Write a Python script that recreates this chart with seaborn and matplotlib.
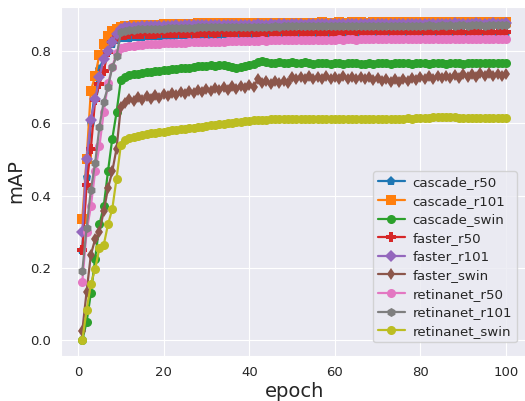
import matplotlib
matplotlib.use("Agg")
import matplotlib.pyplot as plt
import seaborn as sns
import numpy as np

epochs = list(range(1, 101))

cascade_r50 = [
    0.25, 0.45, 0.60, 0.69, 0.75, 0.78, 0.80, 0.82, 0.83, 0.835,
    0.836, 0.837, 0.838, 0.838, 0.839, 0.840, 0.840, 0.841, 0.841, 0.842,
    0.842, 0.842, 0.843, 0.843, 0.843, 0.844, 0.844, 0.844, 0.844, 0.845,
    0.845, 0.845, 0.845, 0.846, 0.845, 0.846, 0.846, 0.846, 0.846, 0.846,
    0.847, 0.846, 0.847, 0.847, 0.847, 0.847, 0.847, 0.848, 0.847, 0.847,
    0.848, 0.847, 0.848, 0.848, 0.847, 0.848, 0.848, 0.848, 0.848, 0.848,
    0.848, 0.848, 0.849, 0.848, 0.848, 0.849, 0.848, 0.849, 0.849, 0.848,
    0.849, 0.849, 0.849, 0.849, 0.848, 0.849, 0.849, 0.849, 0.849, 0.849,
    0.849, 0.849, 0.849, 0.850, 0.849, 0.849, 0.849, 0.850, 0.849, 0.849,
    0.850, 0.849, 0.849, 0.850, 0.849, 0.850, 0.849, 0.850, 0.849, 0.850,
]
cascade_r101 = [
    0.335, 0.50, 0.69, 0.73, 0.79, 0.82, 0.84, 0.855, 0.862, 0.867,
    0.869, 0.870, 0.871, 0.871, 0.872, 0.872, 0.873, 0.873, 0.873, 0.874,
    0.874, 0.874, 0.875, 0.874, 0.875, 0.875, 0.875, 0.876, 0.875, 0.876,
    0.876, 0.876, 0.876, 0.877, 0.876, 0.877, 0.877, 0.876, 0.877, 0.877,
    0.877, 0.878, 0.877, 0.877, 0.878, 0.877, 0.878, 0.878, 0.877, 0.878,
    0.878, 0.878, 0.877, 0.878, 0.878, 0.878, 0.879, 0.878, 0.878, 0.878,
    0.879, 0.878, 0.878, 0.879, 0.878, 0.879, 0.878, 0.878, 0.879, 0.878,
    0.879, 0.879, 0.878, 0.879, 0.879, 0.878, 0.879, 0.879, 0.879, 0.878,
    0.879, 0.879, 0.879, 0.879, 0.878, 0.879, 0.879, 0.880, 0.879, 0.879,
    0.879, 0.879, 0.880, 0.879, 0.879, 0.879, 0.880, 0.879, 0.879, 0.880,
]
cascade_swin = [
    0.0, 0.05, 0.13, 0.225, 0.32, 0.37, 0.467, 0.557, 0.63, 0.72,
    0.728, 0.733, 0.735, 0.737, 0.740, 0.741, 0.742, 0.745, 0.744, 0.746,
    0.748, 0.750, 0.749, 0.752, 0.754, 0.753, 0.756, 0.758, 0.757, 0.759,
    0.760, 0.758, 0.761, 0.760, 0.757, 0.755, 0.754, 0.756, 0.758, 0.760,
    0.764, 0.770, 0.773, 0.768, 0.766, 0.767, 0.768, 0.766, 0.767, 0.768,
    0.767, 0.766, 0.768, 0.767, 0.765, 0.766, 0.767, 0.766, 0.765, 0.767,
    0.766, 0.765, 0.766, 0.767, 0.766, 0.765, 0.764, 0.766, 0.765, 0.766,
    0.767, 0.766, 0.765, 0.766, 0.767, 0.766, 0.766, 0.765, 0.766, 0.767,
    0.766, 0.765, 0.766, 0.767, 0.766, 0.765, 0.766, 0.767, 0.766, 0.765,
    0.766, 0.767, 0.766, 0.766, 0.767, 0.766, 0.767, 0.766, 0.767, 0.767,
]
faster_r50 = [
    0.25, 0.43, 0.53, 0.665, 0.708, 0.745, 0.797, 0.825, 0.838, 0.843,
    0.845, 0.846, 0.846, 0.847, 0.847, 0.848, 0.848, 0.848, 0.849, 0.849,
    0.849, 0.849, 0.850, 0.849, 0.850, 0.850, 0.850, 0.850, 0.851, 0.850,
    0.851, 0.850, 0.851, 0.851, 0.851, 0.851, 0.851, 0.852, 0.851, 0.851,
    0.852, 0.851, 0.852, 0.852, 0.851, 0.852, 0.852, 0.852, 0.852, 0.852,
    0.852, 0.852, 0.853, 0.852, 0.852, 0.852, 0.853, 0.852, 0.852, 0.853,
    0.852, 0.853, 0.852, 0.853, 0.852, 0.853, 0.853, 0.852, 0.853, 0.853,
    0.852, 0.853, 0.853, 0.853, 0.852, 0.853, 0.853, 0.853, 0.853, 0.852,
    0.853, 0.853, 0.853, 0.853, 0.853, 0.852, 0.853, 0.853, 0.853, 0.853,
    0.853, 0.853, 0.852, 0.853, 0.853, 0.853, 0.853, 0.853, 0.853, 0.853,
]
faster_r101 = [
    0.30, 0.50, 0.61, 0.667, 0.727, 0.778, 0.80, 0.825, 0.848, 0.862,
    0.865, 0.866, 0.867, 0.867, 0.868, 0.868, 0.869, 0.869, 0.869, 0.870,
    0.870, 0.870, 0.871, 0.870, 0.871, 0.871, 0.871, 0.872, 0.871, 0.872,
    0.872, 0.872, 0.872, 0.873, 0.872, 0.873, 0.873, 0.872, 0.873, 0.873,
    0.873, 0.874, 0.873, 0.873, 0.874, 0.873, 0.874, 0.874, 0.873, 0.874,
    0.874, 0.874, 0.873, 0.874, 0.874, 0.874, 0.875, 0.874, 0.874, 0.874,
    0.875, 0.874, 0.874, 0.875, 0.874, 0.875, 0.874, 0.874, 0.875, 0.874,
    0.875, 0.875, 0.874, 0.875, 0.875, 0.874, 0.875, 0.875, 0.875, 0.874,
    0.875, 0.875, 0.875, 0.875, 0.874, 0.875, 0.875, 0.876, 0.875, 0.875,
    0.875, 0.875, 0.876, 0.875, 0.875, 0.875, 0.876, 0.875, 0.875, 0.876,
]
faster_swin = [
    0.025, 0.134, 0.236, 0.28, 0.30, 0.356, 0.42, 0.467, 0.53, 0.645,
    0.655, 0.668, 0.662, 0.672, 0.665, 0.676, 0.668, 0.679, 0.671, 0.681,
    0.674, 0.684, 0.677, 0.687, 0.680, 0.690, 0.683, 0.692, 0.686, 0.695,
    0.689, 0.698, 0.691, 0.700, 0.693, 0.702, 0.695, 0.704, 0.698, 0.706,
    0.700, 0.722, 0.712, 0.718, 0.709, 0.716, 0.710, 0.718, 0.712, 0.728,
    0.721, 0.729, 0.722, 0.730, 0.723, 0.729, 0.722, 0.730, 0.723, 0.729,
    0.722, 0.730, 0.723, 0.729, 0.722, 0.729, 0.721, 0.727, 0.719, 0.724,
    0.716, 0.722, 0.714, 0.721, 0.715, 0.723, 0.717, 0.725, 0.720, 0.728,
    0.722, 0.730, 0.723, 0.731, 0.724, 0.732, 0.725, 0.733, 0.726, 0.735,
    0.728, 0.737, 0.729, 0.738, 0.730, 0.738, 0.730, 0.737, 0.730, 0.735,
]
retinanet_r50 = [
    0.162, 0.30, 0.37, 0.467, 0.537, 0.63, 0.71, 0.755, 0.795, 0.808,
    0.811, 0.813, 0.815, 0.816, 0.817, 0.818, 0.819, 0.820, 0.820, 0.821,
    0.821, 0.822, 0.822, 0.823, 0.823, 0.824, 0.824, 0.824, 0.825, 0.825,
    0.825, 0.826, 0.826, 0.826, 0.827, 0.827, 0.827, 0.827, 0.828, 0.828,
    0.828, 0.828, 0.829, 0.828, 0.829, 0.829, 0.829, 0.830, 0.829, 0.830,
    0.830, 0.830, 0.830, 0.831, 0.830, 0.831, 0.831, 0.831, 0.831, 0.831,
    0.832, 0.831, 0.832, 0.832, 0.831, 0.832, 0.832, 0.832, 0.832, 0.833,
    0.832, 0.832, 0.833, 0.832, 0.833, 0.833, 0.833, 0.832, 0.833, 0.833,
    0.833, 0.833, 0.833, 0.834, 0.833, 0.833, 0.833, 0.834, 0.833, 0.833,
    0.834, 0.833, 0.834, 0.833, 0.834, 0.833, 0.834, 0.834, 0.833, 0.834,
]
retinanet_r101 = [
    0.19, 0.31, 0.415, 0.49, 0.59, 0.66, 0.70, 0.755, 0.785, 0.852,
    0.856, 0.858, 0.859, 0.860, 0.860, 0.861, 0.861, 0.862, 0.862, 0.862,
    0.863, 0.863, 0.863, 0.864, 0.864, 0.864, 0.864, 0.865, 0.865, 0.865,
    0.865, 0.865, 0.866, 0.866, 0.866, 0.866, 0.866, 0.866, 0.867, 0.866,
    0.867, 0.867, 0.867, 0.867, 0.867, 0.868, 0.867, 0.868, 0.868, 0.868,
    0.868, 0.868, 0.868, 0.868, 0.869, 0.868, 0.869, 0.868, 0.869, 0.869,
    0.869, 0.869, 0.869, 0.869, 0.869, 0.870, 0.869, 0.869, 0.870, 0.869,
    0.870, 0.870, 0.869, 0.870, 0.870, 0.870, 0.870, 0.870, 0.870, 0.870,
    0.870, 0.871, 0.870, 0.870, 0.871, 0.870, 0.871, 0.870, 0.871, 0.871,
    0.870, 0.871, 0.871, 0.871, 0.870, 0.871, 0.871, 0.871, 0.871, 0.871,
]
retinanet_swin = [
    0.0, 0.083, 0.155, 0.197, 0.255, 0.263, 0.32, 0.363, 0.447, 0.54,
    0.555, 0.560, 0.563, 0.565, 0.568, 0.570, 0.572, 0.573, 0.575, 0.577,
    0.579, 0.580, 0.582, 0.583, 0.585, 0.587, 0.588, 0.589, 0.590, 0.592,
    0.594, 0.595, 0.597, 0.598, 0.600, 0.601, 0.603, 0.604, 0.606, 0.607,
    0.608, 0.609, 0.610, 0.610, 0.611, 0.611, 0.611, 0.612, 0.611, 0.612,
    0.612, 0.611, 0.612, 0.612, 0.611, 0.612, 0.612, 0.611, 0.612, 0.612,
    0.612, 0.611, 0.612, 0.613, 0.612, 0.612, 0.611, 0.612, 0.612, 0.613,
    0.613, 0.612, 0.613, 0.613, 0.612, 0.613, 0.614, 0.613, 0.614, 0.614,
    0.615, 0.615, 0.616, 0.617, 0.617, 0.618, 0.617, 0.616, 0.615, 0.614,
    0.614, 0.615, 0.614, 0.615, 0.615, 0.614, 0.615, 0.615, 0.615, 0.615,
]

series_names = ["cascade_r50", "cascade_r101", "cascade_swin", "faster_r50",
                "faster_r101", "faster_swin", "retinanet_r50", "retinanet_r101",
                "retinanet_swin"]
series_values = [cascade_r50, cascade_r101, cascade_swin, faster_r50, faster_r101,
                 faster_swin, retinanet_r50, retinanet_r101, retinanet_swin]
markers = ["p", "s", "o", "P", "D", "d", "o", "h", "o"]
colors = ["#1f77b4", "#ff7f0e", "#2ca02c", "#d62728", "#9467bd",
          "#8c564b", "#e377c2", "#7f7f7f", "#bcbd22"]

sns.set_style("darkgrid")
plt.rcParams["font.family"] = ["DejaVu Sans"]

fig = plt.figure(figsize=(5.25, 4.01), dpi=100)
ax = fig.add_axes([0.1164, 0.112, 0.888, 0.871])

for name, vals, m, c in zip(series_names, series_values, markers, colors):
    sns.lineplot(x=epochs, y=vals, ax=ax, marker=m, color=c, label=name,
                 markersize=6.5, linewidth=1.6, markeredgewidth=0,
                 markeredgecolor=c)

ax.set_xlim(-3.95, 104.95)
ax.set_ylim(-0.044, 0.922)
ax.set_xticks([0, 20, 40, 60, 80, 100])
ax.set_yticks([0.0, 0.2, 0.4, 0.6, 0.8])
ax.tick_params(labelsize=9.5)
ax.set_xlabel("epoch", fontsize=14, labelpad=2)
ax.set_ylabel("mAP", fontsize=14)
ax.legend(loc="lower right", fontsize=9.6, labelspacing=0.42,
          borderpad=0.35, handletextpad=0.6, handlelength=2.0,
          bbox_to_anchor=(0.992, 0.02))

fig.savefig("out.png", dpi=100)
